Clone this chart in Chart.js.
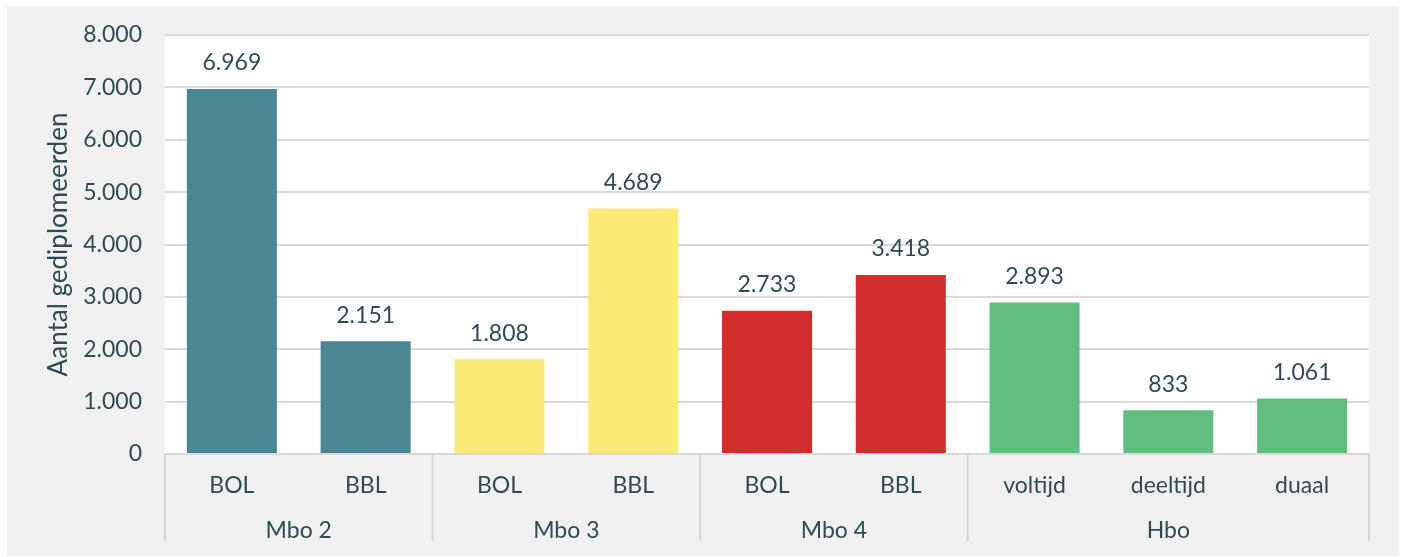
<!DOCTYPE html>
<html>
<head>
<meta charset="utf-8">
<script src="https://cdn.jsdelivr.net/npm/chart.js@4/dist/chart.umd.min.js"></script>
<style>
  html, body { margin: 0; padding: 0; background: #ffffff; }
  #wrap { position: absolute; left: 7px; top: 6px; width: 1392px; height: 550px; background: #f1f1f1; }
</style>
</head>
<body>
<div id="wrap"><canvas id="diploma_chart"></canvas></div>
<script>
const labels = ["BOL", "BBL", "BOL", "BBL", "BOL", "BBL", "voltijd", "deeltijd", "duaal"];
const groups = ["Mbo 2", "Mbo 3", "Mbo 4", "Hbo"];
const group_sizes = [2, 2, 2, 3];
const values = [6969, 2151, 1808, 4689, 2733, 3418, 2893, 833, 1061];
const group_colors = ["#4b8693", "#fcea78", "#d22c2c", "#63bd7f"];
const y_ticks = [0, 1000, 2000, 3000, 4000, 5000, 6000, 7000, 8000];

const text_color = "#2f4b53";
const font_family = "Lato, 'Open Sans', sans-serif";

// colour per bar from its group
let bar_colors = [];
group_sizes.forEach((n, g) => {
  for (let i = 0; i < n; i++) bar_colors.push(group_colors[g]);
});

function fmt(v) {
  return String(v).replace(/\B(?=(\d{3})+(?!\d))/g, ".");
}

const white_area = {
  id: "white_area",
  beforeDraw(chart) {
    const a = chart.chartArea;
    const ctx = chart.ctx;
    ctx.save();
    ctx.fillStyle = "#ffffff";
    ctx.fillRect(a.left, a.top, a.right - a.left, a.bottom - a.top);
    ctx.restore();
  },
};

const bar_values = {
  id: "bar_values",
  afterDatasetsDraw(chart) {
    const ctx = chart.ctx;
    const meta = chart.getDatasetMeta(0);
    ctx.save();
    ctx.fillStyle = text_color;
    ctx.font = "23px " + font_family;
    ctx.textAlign = "center";
    ctx.textBaseline = "middle";
    meta.data.forEach((bar, i) => {
      ctx.fillText(fmt(values[i]), bar.x, bar.y - 26);
    });
    ctx.restore();
  },
};

const group_axis = {
  id: "group_axis",
  afterDraw(chart) {
    const ctx = chart.ctx;
    const x = chart.scales.x;
    const a = chart.chartArea;
    const half = (x.getPixelForValue(1) - x.getPixelForValue(0)) / 2;
    ctx.save();
    ctx.strokeStyle = "#d6d6d6";
    ctx.lineWidth = 2;
    ctx.fillStyle = text_color;
    ctx.font = "23px " + font_family;
    ctx.textAlign = "center";
    ctx.textBaseline = "middle";
    let start = 0;
    group_sizes.forEach((n, g) => {
      const left = x.getPixelForValue(start) - half;
      const right = x.getPixelForValue(start + n - 1) + half;
      ctx.beginPath();
      ctx.moveTo(left, a.bottom);
      ctx.lineTo(left, a.bottom + 87);
      ctx.stroke();
      if (g === group_sizes.length - 1) {
        ctx.beginPath();
        ctx.moveTo(right, a.bottom);
        ctx.lineTo(right, a.bottom + 87);
        ctx.stroke();
      }
      ctx.fillText(groups[g], (left + right) / 2, a.bottom + 77);
      start += n;
    });
    ctx.restore();
  },
};

const diploma_ctx = document.getElementById("diploma_chart");

const diploma_chart = new Chart(diploma_ctx, {
  type: "bar",
  data: {
    labels: labels,
    datasets: [
      {
        data: values,
        backgroundColor: bar_colors,
        categoryPercentage: 1,
        barPercentage: 0.673,
      },
    ],
  },
  options: {
    responsive: true,
    maintainAspectRatio: false,
    animation: false,
    layout: { padding: { top: 29, right: 30, left: 0, bottom: 0 } },
    plugins: { legend: { display: false }, tooltip: { enabled: false } },
    scales: {
      x: {
        grid: { display: false, drawTicks: false },
        border: { display: false },
        ticks: {
          color: text_color,
          font: { family: font_family, size: 23 },
          padding: 18,
          maxRotation: 0,
        },
        afterFit(scale) {
          scale.height = 102;
        },
      },
      y: {
        min: 0,
        max: 8000,
        grid: { color: "#d9d9d9", lineWidth: 2, drawTicks: false },
        border: { display: false },
        afterBuildTicks(scale) {
          scale.ticks = y_ticks.map((v) => ({ value: v }));
        },
        ticks: {
          color: text_color,
          font: { family: font_family, size: 23 },
          padding: 23,
          callback: (v) => fmt(v),
        },
        title: {
          display: true,
          text: "Aantal gediplomeerden",
          color: text_color,
          font: { family: font_family, size: 26 },
          padding: { top: 36, bottom: 0 },
        },
        afterFit(scale) {
          scale.width = 158;
          scale.paddingTop = 0;
          scale.paddingBottom = 0;
        },
      },
    },
  },
  plugins: [white_area, bar_values, group_axis],
});
</script>
</body>
</html>
